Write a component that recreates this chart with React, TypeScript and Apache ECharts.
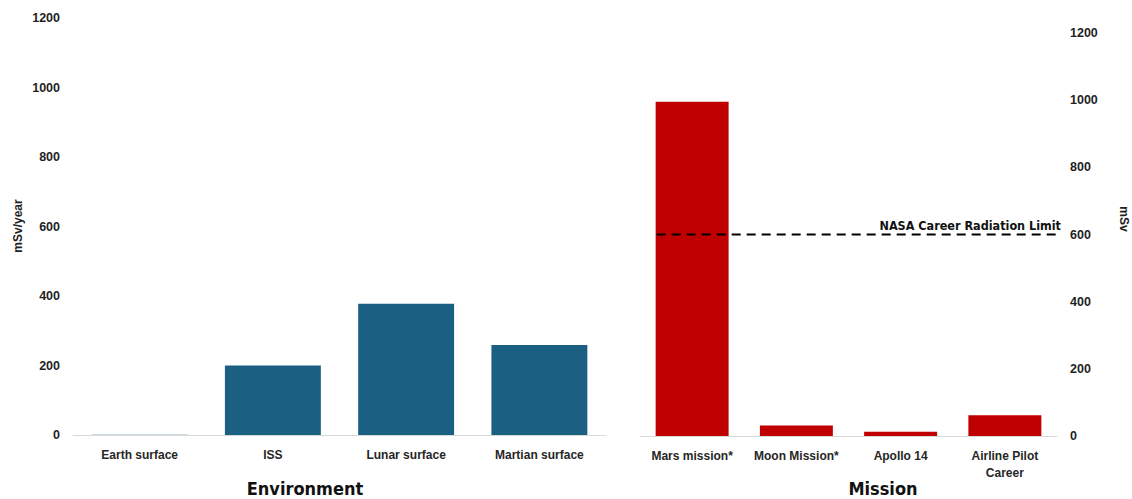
import React, { useEffect, useRef } from "react";
import * as echarts from "echarts";

const envCategories = ["Earth surface", "ISS", "Lunar surface", "Martian surface"];
const envValues = [1, 200, 378, 259];
const missionCategories = ["Mars mission*", "Moon Mission*", "Apollo 14", "Airline Pilot\nCareer"];
const missionValues = [995, 31, 13, 62];
const yTicks = [0, 200, 400, 600, 800, 1000, 1200];
const careerLimit = 600;
const careerLimitLabel = "NASA Career Radiation Limit";

const TICK_FONT = "Arial, 'Liberation Sans', sans-serif";
const NARROW = "'Liberation Sans Narrow', 'DejaVu Sans Condensed', 'Arial Narrow', sans-serif";

export default function App() {
  const ref = useRef<HTMLDivElement>(null);
  useEffect(() => {
    if (!ref.current) return;
    const chart = echarts.init(ref.current, undefined, { renderer: "svg" });
    const yMax = yTicks[yTicks.length - 1];
    const yStep = yTicks[1] - yTicks[0];
    const tickLabel = {
      fontFamily: TICK_FONT,
      fontWeight: "bold" as const,
      fontSize: 12.5,
      color: "#1f1f1f",
      margin: 13,
      formatter: (v: number) => String(v),
    };
    const catLabel = {
      fontFamily: TICK_FONT,
      fontWeight: "bold" as const,
      fontSize: 12,
      color: "#262626",
      margin: 11,
      lineHeight: 17,
      interval: 0,
    };
    chart.setOption({
      animation: false,
      backgroundColor: "#ffffff",
      grid: [
        { left: 73, top: 18, width: 533, height: 417 },
        { left: 640, top: 33, width: 417, height: 403 },
      ],
      xAxis: [
        {
          type: "category",
          gridIndex: 0,
          data: envCategories,
          axisLine: { lineStyle: { color: "#d9d9d9", width: 1 } },
          axisTick: { show: false },
          axisLabel: catLabel,
        },
        {
          type: "category",
          gridIndex: 1,
          data: missionCategories,
          axisLine: { lineStyle: { color: "#d9d9d9", width: 1 } },
          axisTick: { show: false },
          axisLabel: catLabel,
        },
        {
          type: "value",
          gridIndex: 1,
          min: 0,
          max: missionCategories.length,
          show: false,
        },
      ],
      yAxis: [
        {
          type: "value",
          gridIndex: 0,
          min: 0,
          max: yMax,
          interval: yStep,
          splitLine: { show: false },
          axisLine: { show: false },
          axisTick: { show: false },
          axisLabel: tickLabel,
        },
        {
          type: "value",
          gridIndex: 1,
          position: "right",
          min: 0,
          max: yMax,
          interval: yStep,
          splitLine: { show: false },
          axisLine: { show: false },
          axisTick: { show: false },
          axisLabel: tickLabel,
        },
      ],
      series: [
        {
          type: "bar",
          xAxisIndex: 0,
          yAxisIndex: 0,
          data: envValues,
          barWidth: "72%",
          itemStyle: { color: "#1b6083" },
        },
        {
          type: "bar",
          xAxisIndex: 1,
          yAxisIndex: 1,
          data: missionValues,
          barWidth: "70%",
          itemStyle: { color: "#c00000" },
        },
        {
          type: "line",
          xAxisIndex: 2,
          yAxisIndex: 1,
          clip: false,
          symbol: "none",
          data: [
            [0.16, careerLimit],
            [4.03, careerLimit],
          ],
          lineStyle: { color: "#000000", width: 2, type: [9, 6] },
          endLabel: {
            show: true,
            formatter: careerLimitLabel,
            align: "right",
            verticalAlign: "bottom",
            offset: [-5, -3],
            fontFamily: NARROW,
            fontWeight: "bold",
            fontSize: 12.5,
            color: "#111111",
          },
        },
      ],
      graphic: [
        {
          type: "text",
          x: 18,
          y: 226,
          rotation: Math.PI / 2,
          style: {
            text: "mSv/year",
            font: "bold 12px Arial, 'Liberation Sans', sans-serif",
            fill: "#1f1f1f",
            textAlign: "center",
            textVerticalAlign: "middle",
          },
        },
        {
          type: "text",
          x: 1124,
          y: 219,
          rotation: -Math.PI / 2,
          style: {
            text: "mSv",
            font: "bold 12px Arial, 'Liberation Sans', sans-serif",
            fill: "#1f1f1f",
            textAlign: "center",
            textVerticalAlign: "middle",
          },
        },
        {
          type: "text",
          x: 305,
          y: 488,
          style: {
            text: "Environment",
            font: "bold 18px " + NARROW,
            fill: "#111111",
            textAlign: "center",
            textVerticalAlign: "middle",
          },
        },
        {
          type: "text",
          x: 883,
          y: 488,
          style: {
            text: "Mission",
            font: "bold 18px " + NARROW,
            fill: "#111111",
            textAlign: "center",
            textVerticalAlign: "middle",
          },
        },
      ],
    });
    return () => chart.dispose();
  }, []);
  return (
    <div
      ref={ref}
      style={{ position: "fixed", left: 0, top: 0, width: 1132, height: 499, background: "#fff" }}
    />
  );
}
